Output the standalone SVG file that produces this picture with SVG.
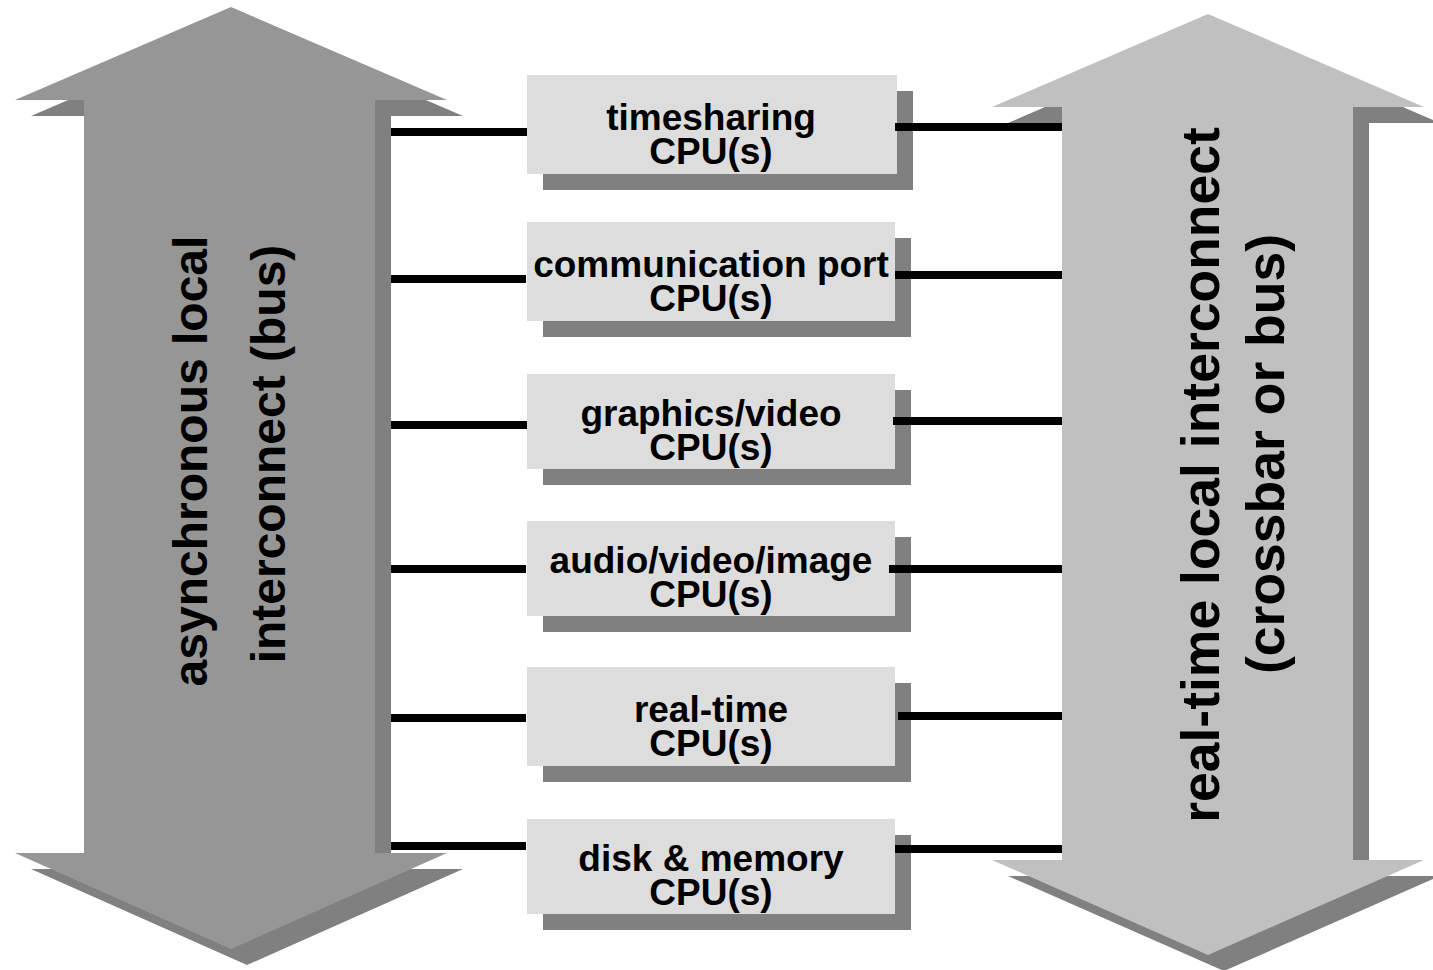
<svg xmlns="http://www.w3.org/2000/svg" width="1433" height="970" viewBox="0 0 1433 970">
  <style>
    .shadow { fill: #808080; }
    .bus-async { fill: #969696; }
    .bus-rt { fill: #c0c0c0; }
    .box { fill: #dddddd; }
    .label { font-family: "Liberation Sans", Arial, sans-serif; font-weight: bold; fill: #000; text-anchor: middle; }
    .node-text { font-size: 37px; }
    .bus-text-l { font-size: 48px; }
    .bus-text-r { font-size: 53.5px; }
    .wire { stroke: #000; stroke-width: 8; fill: none; }
  </style>
  <defs>
    <!-- double-headed vertical arrow shapes -->
    <polygon id="arrow-left" points="231,7 447,100 375,100 375,853 447,853 231,949 15,853 84,853 84,100 15,100"/>
    <polygon id="arrow-right" points="1208,14 1424,107 1353,107 1353,860 1424,860 1208,955 992,860 1062,860 1062,107 992,107"/>
  </defs>

  <!-- asynchronous bus -->
  <g id="async-bus">
    <use href="#arrow-left" class="shadow" transform="translate(16,16)"/>
    <use href="#arrow-left" class="bus-async"/>
    <text class="label bus-text-l" transform="translate(207,461) rotate(-90)" x="0" y="0">asynchronous local</text>
    <text class="label bus-text-l" transform="translate(285,454) rotate(-90)" x="0" y="0">interconnect (bus)</text>
  </g>

  <!-- real-time interconnect -->
  <g id="realtime-bus">
    <use href="#arrow-right" class="shadow" transform="translate(16,16)"/>
    <use href="#arrow-right" class="bus-rt"/>
    <text class="label bus-text-r" transform="translate(1219,475) rotate(-90)" x="0" y="0">real-time local interconnect</text>
    <text class="label bus-text-r" transform="translate(1284,454) rotate(-90)" x="0" y="0">(crossbar or bus)</text>
  </g>

  <!-- processor nodes -->
  <g id="node-timesharing">
    <rect class="shadow" x="543" y="91" width="370" height="99"/>
    <rect class="box" x="527" y="75" width="370" height="99"/>
    <text class="label node-text" x="711" y="130">timesharing</text>
    <text class="label node-text" x="711" y="164">CPU(s)</text>
  </g>
  <g id="node-comm">
    <rect class="shadow" x="543" y="238" width="368" height="99"/>
    <rect class="box" x="527" y="222" width="368" height="99"/>
    <text class="label node-text" x="711" y="277">communication port</text>
    <text class="label node-text" x="711" y="311">CPU(s)</text>
  </g>
  <g id="node-graphics">
    <rect class="shadow" x="543" y="390" width="368" height="95"/>
    <rect class="box" x="527" y="374" width="368" height="95"/>
    <text class="label node-text" x="711" y="426">graphics/video</text>
    <text class="label node-text" x="711" y="460">CPU(s)</text>
  </g>
  <g id="node-media">
    <rect class="shadow" x="543" y="537" width="368" height="95"/>
    <rect class="box" x="527" y="521" width="368" height="95"/>
    <text class="label node-text" x="711" y="573">audio/video/image</text>
    <text class="label node-text" x="711" y="607">CPU(s)</text>
  </g>
  <g id="node-realtime">
    <rect class="shadow" x="543" y="683" width="368" height="99"/>
    <rect class="box" x="527" y="667" width="368" height="99"/>
    <text class="label node-text" x="711" y="722">real-time</text>
    <text class="label node-text" x="711" y="756">CPU(s)</text>
  </g>
  <g id="node-disk">
    <rect class="shadow" x="543" y="835" width="368" height="95"/>
    <rect class="box" x="527" y="819" width="368" height="95"/>
    <text class="label node-text" x="711" y="871">disk &amp; memory</text>
    <text class="label node-text" x="711" y="905">CPU(s)</text>
  </g>

  <!-- bus connections -->
  <g id="connectors">
    <line class="wire" x1="391" y1="132" x2="527" y2="132"/>
    <line class="wire" x1="391" y1="279" x2="526" y2="279"/>
    <line class="wire" x1="391" y1="425" x2="527" y2="425"/>
    <line class="wire" x1="391" y1="569" x2="526" y2="569"/>
    <line class="wire" x1="391" y1="718" x2="526" y2="718"/>
    <line class="wire" x1="391" y1="846" x2="526" y2="846"/>

    <line class="wire" x1="895" y1="127" x2="1062" y2="127"/>
    <line class="wire" x1="895" y1="275" x2="1062" y2="275"/>
    <line class="wire" x1="893" y1="421" x2="1062" y2="421"/>
    <line class="wire" x1="889" y1="569" x2="1062" y2="569"/>
    <line class="wire" x1="898" y1="716" x2="1062" y2="716"/>
    <line class="wire" x1="895" y1="849" x2="1062" y2="849"/>
  </g>
</svg>
